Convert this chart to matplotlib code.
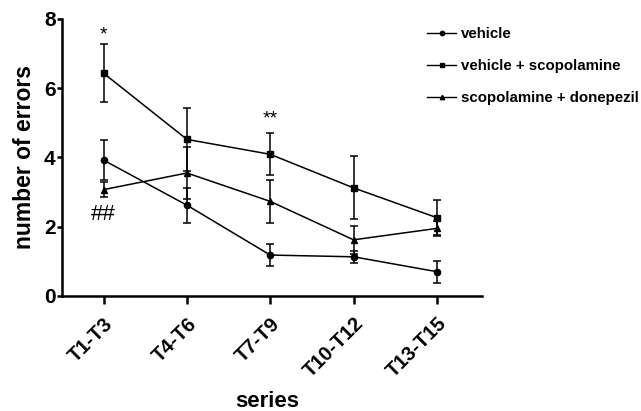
import numpy as np
import matplotlib
matplotlib.use("Agg")
import matplotlib.pyplot as plt
from matplotlib.lines import Line2D

plt.rcParams['font.family'] = ['Liberation Sans', 'DejaVu Sans']

series = ['T1-T3', 'T4-T6', 'T7-T9', 'T10-T12', 'T13-T15']

vehicle = [3.92, 2.62, 1.18, 1.13, 0.70]
vehicle_err = [0.58, 0.50, 0.31, 0.18, 0.32]

vehicle_scop = [6.43, 4.52, 4.09, 3.12, 2.26]
vehicle_scop_err = [0.84, 0.90, 0.61, 0.91, 0.50]

scop_donep = [3.07, 3.55, 2.73, 1.62, 1.95]
scop_donep_err = [0.22, 0.75, 0.61, 0.40, 0.22]

grupos = [
    ('vehicle', vehicle, vehicle_err, 'o', 4.5),
    ('vehicle + scopolamine', vehicle_scop, vehicle_scop_err, 's', 5),
    ('scopolamine + donepezil', scop_donep, scop_donep_err, '^', 4.5),
]

fig = plt.figure(figsize=(6.41, 4.11), dpi=100)
ax = fig.add_axes([0.0967, 0.280, 0.655, 0.674])

x = np.arange(len(series))
handles = []
for nome, valores, erros, marcador, tam in grupos:
    ax.errorbar(x, valores, yerr=erros, color='black', linewidth=1.1,
                marker=marcador, markersize=tam, capsize=3, capthick=1.1,
                elinewidth=1.1)
    handles.append(Line2D([], [], color='black', linewidth=1.0,
                          marker=marcador, markersize=tam * 0.7, label=nome))

# marcas de significancia
ax.text(0, 7.55, '*', ha='center', va='center', fontsize=14)
ax.text(2, 5.1, '**', ha='center', va='center', fontsize=14)
ax.text(0, 2.35, '##', ha='center', va='center', fontsize=16)

ax.set_xlim(-0.5, 4.54)
ax.set_ylim(0, 8)
ax.set_yticks([0, 2, 4, 6, 8])
ax.set_xticks(x)
ax.set_xticklabels(series, rotation=45, ha='right', rotation_mode='anchor',
                   fontsize=14.5, fontweight='bold')
for lab in ax.get_yticklabels():
    lab.set_fontsize(15)
    lab.set_fontweight('bold')

for lado in ['top', 'right']:
    ax.spines[lado].set_visible(False)
for lado in ['left', 'bottom']:
    ax.spines[lado].set_linewidth(1.8)
ax.tick_params(axis='x', width=1.8, length=6, direction='out', pad=7)
ax.tick_params(axis='y', width=1.8, length=3.5, direction='out', pad=1)

ax.set_ylabel('number of errors', fontsize=16.5, fontweight='bold', labelpad=6)
ax.set_xlabel('series', fontsize=16, fontweight='bold')
ax.xaxis.set_label_coords(0.49, -0.345)

leg = fig.legend(handles=handles, loc='upper left',
                 bbox_to_anchor=(0.645, 0.966),
                 frameon=False, handlelength=1.95, labelspacing=1.2,
                 handletextpad=0.3,
                 prop={'weight': 'bold', 'size': 10.8})

fig.savefig('out.png', dpi=100)
